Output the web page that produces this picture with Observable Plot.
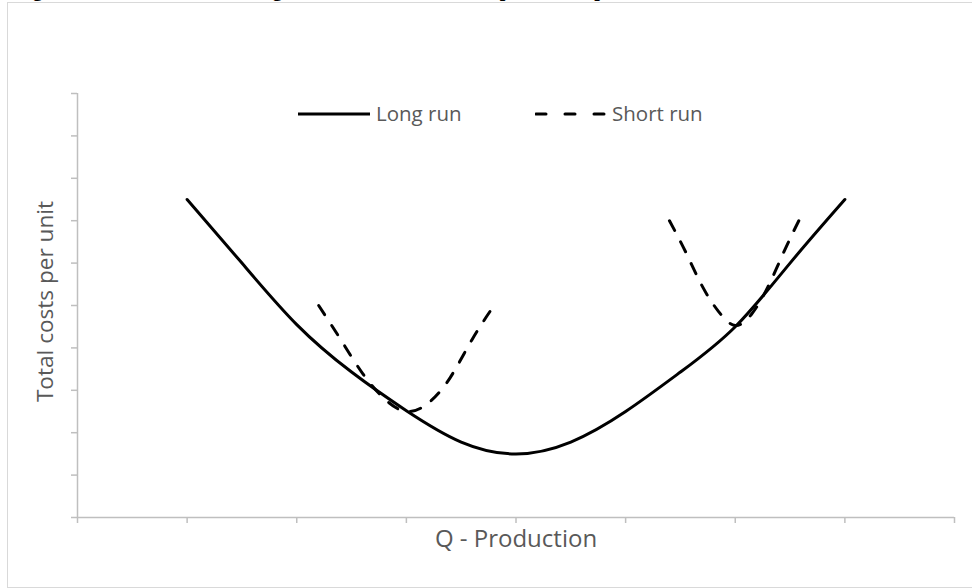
<!DOCTYPE html>
<html>
<head>
<meta charset="utf-8">
<script src="https://cdn.jsdelivr.net/npm/d3@7"></script>
<script src="https://cdn.jsdelivr.net/npm/@observablehq/plot@0.6"></script>
<style>
  html, body { margin: 0; padding: 0; background: #fff; }
  body { width: 972px; height: 588px; overflow: hidden; position: relative; }
  #frame { position: absolute; left: 7px; top: 2px; width: 990px; height: 584px;
           border-left: 1.5px solid #d9d9d9; border-top: 1.5px solid #d9d9d9; border-bottom: 1.5px solid #d9d9d9; }
  #title { position: absolute; left: 15px; top: -21px; font-family: "Liberation Serif", serif; font-weight: bold;
           font-size: 20px; line-height: 20px; white-space: nowrap; color: #000; }
  #chart { position: absolute; left: 0; top: 0; }
  .leg { position: absolute; font-family: "Open Sans", sans-serif; font-size: 20.5px; color: #595959; line-height: 22px; white-space: nowrap; }
  .sw { position: absolute; }
</style>
</head>
<body>
<div id="frame"></div>
<div id="title">Figure 4: Total costs in the long run and in the short run per unit of production</div>
<div id="chart"></div>
<svg class="sw" style="left:298px; top:104px" width="72" height="20"><line x1="0" y1="10" x2="72" y2="10" stroke="#000" stroke-width="3"/></svg>
<div class="leg" style="left:376px; top:102px">Long run</div>
<svg class="sw" style="left:535px; top:104px" width="72" height="20"><line x1="1" y1="10" x2="70" y2="10" stroke="#000" stroke-width="3" stroke-dasharray="10,19" stroke-linecap="round"/></svg>
<div class="leg" style="left:612px; top:102px">Short run</div>
<script>
// Tick positions (no tick labels shown)
const xTicks = [0, 1, 2, 3, 4, 5, 6, 7, 8];
const yTicks = [0, 1, 2, 3, 4, 5, 6, 7, 8, 9, 10];

// Long run curve
const longQ    = [1, 1.5, 2, 2.5, 3, 3.5, 4, 4.5, 5, 5.5, 6, 6.5, 7];
const longCost = [7.5, 6.0, 4.55, 3.43, 2.52, 1.78, 1.5, 1.78, 2.5, 3.43, 4.5, 6.0, 7.5];

// Short run curves
const shortLeftQ     = [2.2, 2.4, 2.6, 2.8, 3.0, 3.2, 3.4, 3.6, 3.8];
const shortLeftCost  = [5.0, 4.2, 3.4, 2.8, 2.5, 2.7, 3.3, 4.2, 5.0];
const shortRightQ    = [5.4, 5.55, 5.7, 5.85, 6.0, 6.15, 6.3, 6.45, 6.58];
const shortRightCost = [7.0, 6.25, 5.45, 4.85, 4.53, 4.8, 5.45, 6.3, 7.0];

const xLabel = "Q - Production";
const yLabel = "Total costs per unit";

const longRows = longQ.map((q, i) => ({q, cost: longCost[i]}));
const shortRows = [
  ...shortLeftQ.map((q, i) => ({q, cost: shortLeftCost[i], seg: "left"})),
  ...shortRightQ.map((q, i) => ({q, cost: shortRightCost[i], seg: "right"}))
];

const axisColor = "#bfbfbf";

const chart = Plot.plot({
  width: 972,
  height: 588,
  marginLeft: 77,
  marginRight: 18,
  marginTop: 93,
  marginBottom: 71,
  style: {fontFamily: "'Open Sans', sans-serif", background: "transparent"},
  x: {domain: [0, 8]},
  y: {domain: [0, 10]},
  marks: [
    Plot.axisY({ticks: yTicks, tickSize: 6, stroke: axisColor, strokeWidth: 1.5, fill: null}),
    Plot.axisX({ticks: xTicks, tickSize: 6, stroke: axisColor, strokeWidth: 1.5, fill: null}),
    Plot.ruleX([0], {stroke: axisColor, strokeWidth: 1.5}),
    Plot.ruleY([0], {stroke: axisColor, strokeWidth: 1.5}),
    Plot.line(longRows, {x: "q", y: "cost", curve: "natural", stroke: "#000", strokeWidth: 3}),
    Plot.line(shortRows, {x: "q", y: "cost", z: "seg", curve: "natural", stroke: "#000", strokeWidth: 3,
                          strokeDasharray: "11,13", strokeLinecap: "round"}),
    Plot.text([xLabel], {frameAnchor: "bottom", lineAnchor: "middle", dy: 22, fontSize: 24, fill: "#595959"}),
    Plot.text([yLabel], {frameAnchor: "left", textAnchor: "middle", lineAnchor: "middle", dx: -32, dy: -4, rotate: -90, fontSize: 22.6, fill: "#595959"})
  ]
});
document.getElementById("chart").appendChild(chart);
</script>
</body>
</html>
